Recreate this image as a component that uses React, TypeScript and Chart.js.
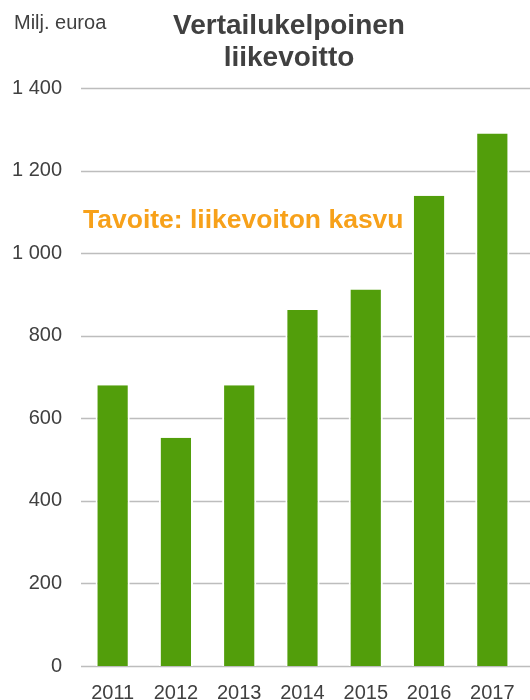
import React, { useEffect, useRef } from "react";
import { Chart, registerables } from "chart.js";

Chart.register(...registerables);

const years = ["2011", "2012", "2013", "2014", "2015", "2016", "2017"];
const profit = [680, 553, 680, 862, 912, 1139, 1290];
const yTicks = [0, 200, 400, 600, 800, 1000, 1200, 1400];
const titleLines = ["Vertailukelpoinen", "liikevoitto"];
const unitLabel = "Milj. euroa";
const goalLabel = "Tavoite: liikevoiton kasvu";

const GREEN = "#529e0b";
const TEXT = "#404040";
const ORANGE = "#f7a11a";
const GRID = "#bdbdbd";

const fmt = (v: number) => {
  const s = String(v);
  return s.length > 3 ? s.slice(0, s.length - 3) + " " + s.slice(-3) : s;
};

export default function App() {
  const ref = useRef<HTMLCanvasElement | null>(null);
  useEffect(() => {
    if (!ref.current) return;
    const gridPlugin = {
      id: "customGrid",
      beforeDatasetsDraw(chart: any) {
        const ctx = chart.ctx;
        const y = chart.scales.y;
        ctx.save();
        ctx.strokeStyle = GRID;
        ctx.lineWidth = 1.5;
        yTicks.forEach((t) => {
          const py = Math.round(y.getPixelForValue(t)) + 0.5;
          ctx.beginPath();
          ctx.moveTo(chart.chartArea.left, py);
          ctx.lineTo(530, py);
          ctx.stroke();
        });
        ctx.restore();
      },
    };
    const textPlugin = {
      id: "texts",
      afterDraw(chart: any) {
        const ctx = chart.ctx;
        ctx.save();
        ctx.fillStyle = TEXT;
        ctx.textBaseline = "alphabetic";
        ctx.textAlign = "left";
        ctx.font = "20px 'Liberation Sans', Arial, sans-serif";
        ctx.fillText(unitLabel, 14, 29);
        ctx.textAlign = "center";
        ctx.font = "bold 28px 'Liberation Sans', Arial, sans-serif";
        ctx.fillText(titleLines[0], 289, 34);
        ctx.fillText(titleLines[1], 289, 66);
        ctx.textAlign = "left";
        ctx.fillStyle = ORANGE;
        ctx.font = "bold 26.5px 'Liberation Sans', Arial, sans-serif";
        ctx.fillText(goalLabel, 83, 228);
        ctx.restore();
      },
    };
    const chart = new Chart(ref.current, {
      type: "bar",
      data: {
        labels: years,
        datasets: [
          {
            data: profit,
            backgroundColor: GREEN,
            borderColor: "#ffffff",
            borderWidth: { left: 2, right: 2, top: 0, bottom: 0 },
            borderSkipped: false,
            barPercentage: 0.54,
            categoryPercentage: 1,
          },
        ],
      },
      options: {
        animation: false,
        responsive: false,
        layout: { padding: { top: 88, right: 6, left: 0, bottom: 0 } },
        plugins: { legend: { display: false }, tooltip: { enabled: false }, title: { display: false } },
        scales: {
          x: {
            grid: { display: false, drawTicks: false },
            border: { display: false },
            ticks: {
              color: TEXT,
              padding: 15,
              font: { size: 20, family: "'Liberation Sans', Arial, sans-serif" },
              maxRotation: 0,
            },
            afterFit(scale: any) {
              scale.height = 34;
            },
          },
          y: {
            min: 0,
            max: 1400,
            grid: { display: false, drawTicks: false },
            border: { display: false },
            afterBuildTicks(scale: any) {
              scale.ticks = yTicks.map((v) => ({ value: v }));
            },
            ticks: {
              color: TEXT,
              padding: 19,
              font: { size: 20, family: "'Liberation Sans', Arial, sans-serif" },
              callback: (v: any) => fmt(Number(v)),
            },
            afterFit(scale: any) {
              scale.width = 81;
            },
          },
        },
      },
      plugins: [gridPlugin, textPlugin],
    });
    return () => chart.destroy();
  }, []);
  return (
    <div style={{ position: "absolute", left: 0, top: 0, width: 530, height: 700, background: "#fff" }}>
      <canvas ref={ref} width={530} height={700} style={{ display: "block" }} />
    </div>
  );
}
